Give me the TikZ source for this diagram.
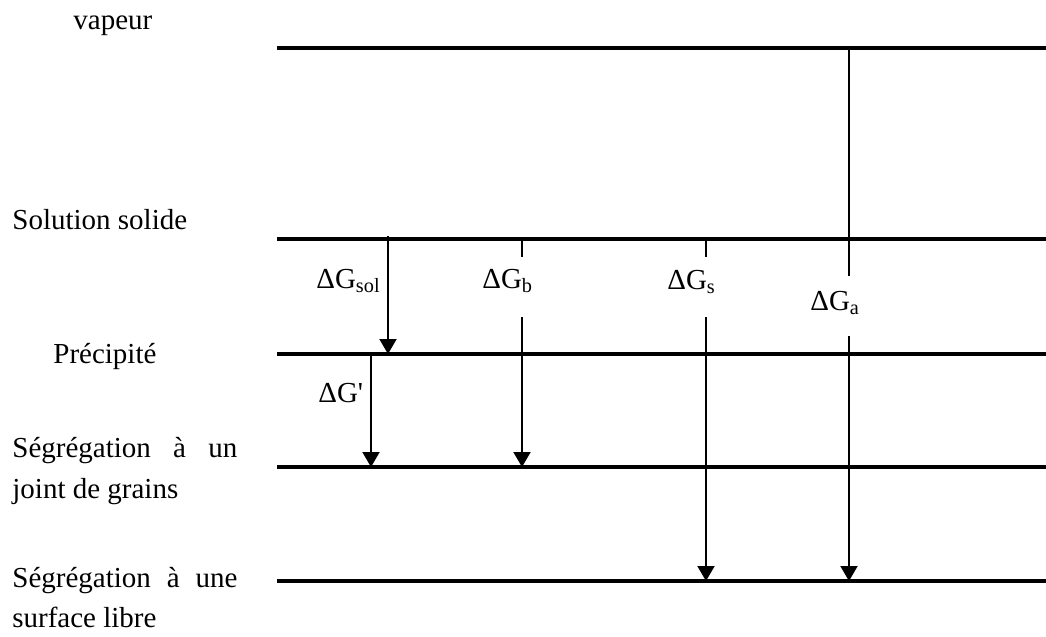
\documentclass[tikz,border=0pt]{standalone}
\usepackage{fontspec}
\setmainfont{Liberation Serif}
\usetikzlibrary{arrows.meta}
\tikzset{
  level/.style = {line width=2.1pt},
  link/.style  = {line width=1pt},
  arr/.style   = {link, -{Triangle[length=7.5pt, width=8.5pt]}},
  lbl/.style   = {font=\fontsize{14.5}{20.5}\selectfont, inner sep=0pt,
                  anchor=base west}
}
\newcommand{\dG}[1]{ΔG\textsubscript{#1}}

\begin{document}
\begin{tikzpicture}[x=0.5pt, y=-0.5pt]
  \useasboundingbox (0,0) rectangle (1046,637);

  % ── Energy levels ─────────────────────────────────────────────────────────
  \coordinate (VapL) at (277,48);  \coordinate (VapR) at (1046,48);
  \coordinate (SolL) at (277,239); \coordinate (SolR) at (1046,239);
  \coordinate (PreL) at (277,354); \coordinate (PreR) at (1046,354);
  \coordinate (JgL)  at (277,467); \coordinate (JgR)  at (1046,467);
  \coordinate (SfL)  at (277,581); \coordinate (SfR)  at (1046,581);

  \draw[level] (VapL) -- (VapR);
  \draw[level] (SolL) -- (SolR);
  \draw[level] (PreL) -- (PreR);
  \draw[level] (JgL)  -- (JgR);
  \draw[level] (SfL)  -- (SfR);

  % ── Level names ───────────────────────────────────────────────────────────
  \node[lbl] (VapTxt) at (73,30)  {vapeur};
  \node[lbl] (SolTxt) at (12,229) {Solution solide};
  \node[lbl] (PreTxt) at (53,363) {Précipité};
  \node[lbl] (JgTxtA) at (12,457) {\makebox[112.5pt][s]{Ségrégation à un}};
  \node[lbl] (JgTxtB) at (12,498) {joint de grains};
  \node[lbl] (SfTxtA) at (12,587) {\makebox[112.5pt][s]{Ségrégation à une}};
  \node[lbl] (SfTxtB) at (12,627) {surface libre};

  % ── Free energy labels ────────────────────────────────────────────────────
  \node[lbl] (GSol)   at (316,288) {\dG{sol}};
  \node[lbl] (GB)     at (482,288) {\dG{b}};
  \node[lbl] (GS)     at (667,289) {\dG{s}};
  \node[lbl] (GA)     at (810,310) {\dG{a}};
  \node[lbl] (GPrime) at (318,402) {ΔG\textquotesingle};

  % ── Transitions ───────────────────────────────────────────────────────────
  % solution -> precipitate, precipitate -> grain boundary
  \coordinate (SolTop) at (388,236); \coordinate (SolBot) at (388,354);
  \draw[arr] (SolTop) -- (SolBot);
  \coordinate (PrTop) at (371,354);  \coordinate (PrBot) at (371,467);
  \draw[arr] (PrTop) -- (PrBot);

  % grain boundary segregation
  \coordinate (BTop) at (522,239); \coordinate (BGapA) at (522,257);
  \coordinate (BGapB) at (522,317); \coordinate (BBot) at (522,467);
  \draw[link] (BTop) -- (BGapA);
  \draw[arr] (BGapB) -- (BBot);

  % free surface segregation
  \coordinate (STop) at (706,239); \coordinate (SGapA) at (706,257);
  \coordinate (SGapB) at (706,317); \coordinate (SBot) at (706,581);
  \draw[link] (STop) -- (SGapA);
  \draw[arr] (SGapB) -- (SBot);

  % adsorption from the vapour
  \coordinate (ATop) at (849,48);  \coordinate (AGapA) at (849,276);
  \coordinate (AGapB) at (849,336); \coordinate (ABot) at (849,581);
  \draw[link] (ATop) -- (AGapA);
  \draw[arr] (AGapB) -- (ABot);

\end{tikzpicture}
\end{document}
